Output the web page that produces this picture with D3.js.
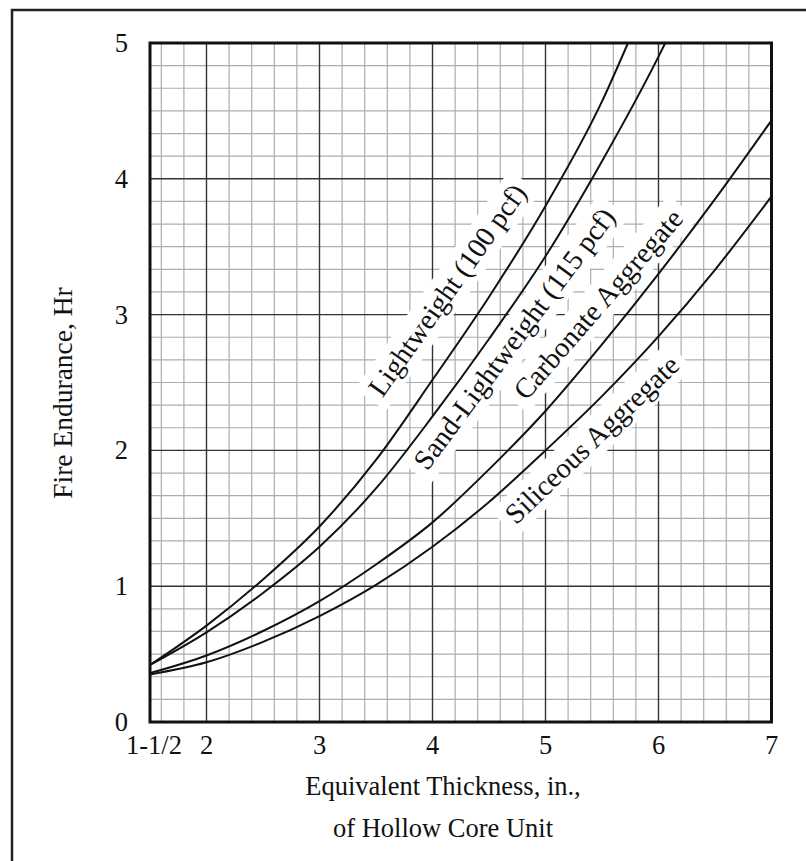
<!DOCTYPE html>
<html>
<head>
<meta charset="utf-8">
<script src="https://cdn.jsdelivr.net/npm/d3@7"></script>
<style>
  html, body { margin: 0; padding: 0; background: #fff; }
  svg { display: block; }
  text { font-family: "Liberation Serif", "Times New Roman", serif; fill: #111; }
</style>
</head>
<body>
<script>
// ---- data ----
const xTickValues = [1.5, 2, 3, 4, 5, 6, 7];
const xTickLabels = ["1-1/2", "2", "3", "4", "5", "6", "7"];
const yTickValues = [0, 1, 2, 3, 4, 5];
const yTickLabels = ["0", "1", "2", "3", "4", "5"];

const lightweightX = [1.5, 2, 2.5, 3, 3.5, 4, 4.5, 5, 5.5, 5.73];
const lightweightY = [0.42, 0.71, 1.05, 1.44, 1.93, 2.52, 3.13, 3.80, 4.57, 5.0];

const sandLightweightX = [1.5, 2, 2.5, 3, 3.5, 4, 4.5, 5, 5.5, 6, 6.06];
const sandLightweightY = [0.42, 0.66, 0.95, 1.29, 1.72, 2.25, 2.82, 3.43, 4.13, 4.90, 5.0];

const carbonateX = [1.5, 2, 2.5, 3, 3.5, 4, 4.5, 5, 5.5, 6, 6.5, 7];
const carbonateY = [0.36, 0.49, 0.67, 0.89, 1.16, 1.47, 1.86, 2.29, 2.78, 3.30, 3.85, 4.43];

const siliceousX = [1.5, 2, 2.5, 3, 3.5, 4, 4.5, 5, 5.5, 6, 6.5, 7];
const siliceousY = [0.35, 0.44, 0.59, 0.78, 1.01, 1.29, 1.62, 2.0, 2.4, 2.84, 3.33, 3.87];

const seriesNames = ["Lightweight (100 pcf)", "Sand-Lightweight (115 pcf)", "Carbonate Aggregate", "Siliceous Aggregate"];
// label anchor positions in data units (thickness, hours)
const labelAtX = [4.20, 4.79, 5.53, 5.47];
const labelAtY = [3.14, 2.78, 3.03, 2.03];

const xTitleLines = ["Equivalent Thickness, in.,", "of Hollow Core Unit"];
const yTitle = "Fire Endurance, Hr";

// ---- layout ----
const W = 806, H = 861;
const svg = d3.select("body").append("svg").attr("width", W).attr("height", H);

const x = d3.scaleLinear().domain([1.5, 7]).range([150, 771.5]);
const y = d3.scaleLinear().domain([0, 5]).range([722, 43]);

// outer frame (right/bottom edges lie outside the view)
svg.append("rect").attr("x", 12).attr("y", 10).attr("width", 900).attr("height", 900)
  .attr("fill", "none").attr("stroke", "#222").attr("stroke-width", 2.5);

// grid
const grid = svg.append("g");
const minorX = d3.range(16, 70, 2).map(v => v / 10).filter(v => Math.abs(v - Math.round(v)) > 1e-6);
const minorY = d3.range(1, 30).filter(i => i % 6 !== 0).map(i => i / 6);
grid.selectAll(".mx").data(minorX).join("line")
  .attr("x1", d => x(d)).attr("x2", d => x(d)).attr("y1", y(0)).attr("y2", y(5))
  .attr("stroke", "#adadad").attr("stroke-width", 1.2);
grid.selectAll(".my").data(minorY).join("line")
  .attr("y1", d => y(d)).attr("y2", d => y(d)).attr("x1", x(1.5)).attr("x2", x(7))
  .attr("stroke", "#adadad").attr("stroke-width", 1.2);
grid.selectAll(".Mx").data([2, 3, 4, 5, 6]).join("line")
  .attr("x1", d => x(d)).attr("x2", d => x(d)).attr("y1", y(0)).attr("y2", y(5))
  .attr("stroke", "#333").attr("stroke-width", 1.4);
grid.selectAll(".My").data([1, 2, 3, 4]).join("line")
  .attr("y1", d => y(d)).attr("y2", d => y(d)).attr("x1", x(1.5)).attr("x2", x(7))
  .attr("stroke", "#333").attr("stroke-width", 1.4);

// clip
svg.append("clipPath").attr("id", "clip").append("rect")
  .attr("x", x(1.5)).attr("y", y(5)).attr("width", x(7) - x(1.5)).attr("height", y(0) - y(5));

const seriesX = [lightweightX, sandLightweightX, carbonateX, siliceousX];
const seriesY = [lightweightY, sandLightweightY, carbonateY, siliceousY];
const angles = [-54.8, -53.4, -49, -43.8];
const bgLayer = svg.append("g");
const curveLayer = svg.append("g").attr("clip-path", "url(#clip)");
const textLayer = svg.append("g");

const line = d3.line().x(d => x(d[0])).y(d => y(d[1])).curve(d3.curveMonotoneX);
seriesX.forEach((xs, i) => {
  const pts = xs.map((v, j) => [v, seriesY[i][j]]);
  curveLayer.append("path").attr("d", line(pts))
    .attr("fill", "none").attr("stroke", "#111").attr("stroke-width", 2);
});

seriesNames.forEach((name, i) => {
  const tr = `translate(${x(labelAtX[i])},${y(labelAtY[i])}) rotate(${angles[i]})`;
  const g = textLayer.append("g").attr("transform", tr);
  const t = g.append("text").attr("text-anchor", "middle").attr("font-size", 28.5).text(name);
  const bb = t.node().getBBox();
  bgLayer.append("rect").attr("transform", tr)
    .attr("x", bb.x - 8).attr("y", bb.y - 3).attr("width", bb.width + 16).attr("height", bb.height + 6)
    .attr("fill", "#fff");
});

// plot border
svg.append("rect").attr("x", x(1.5)).attr("y", y(5)).attr("width", x(7) - x(1.5)).attr("height", y(0) - y(5))
  .attr("fill", "none").attr("stroke", "#111").attr("stroke-width", 3);

// axes tick labels
const axisG = svg.append("g");
axisG.selectAll(".xt").data(xTickValues).join("text")
  .attr("x", (d, i) => x(d) + (i === 0 ? 4 : 0)).attr("y", 754)
  .attr("text-anchor", "middle").attr("font-size", 26.5)
  .text((d, i) => xTickLabels[i]);
axisG.selectAll(".yt").data(yTickValues).join("text")
  .attr("x", 128).attr("y", d => y(d) + 9)
  .attr("text-anchor", "end").attr("font-size", 26.5)
  .text((d, i) => yTickLabels[i]);

// titles
svg.append("text").attr("x", 443).attr("y", 795).attr("text-anchor", "middle").attr("font-size", 26.5).text(xTitleLines[0]);
svg.append("text").attr("x", 443).attr("y", 837).attr("text-anchor", "middle").attr("font-size", 26.5).text(xTitleLines[1]);
svg.append("text").attr("transform", "translate(72,393) rotate(-90)").attr("text-anchor", "middle").attr("font-size", 27.5).text(yTitle);
</script>
</body>
</html>
